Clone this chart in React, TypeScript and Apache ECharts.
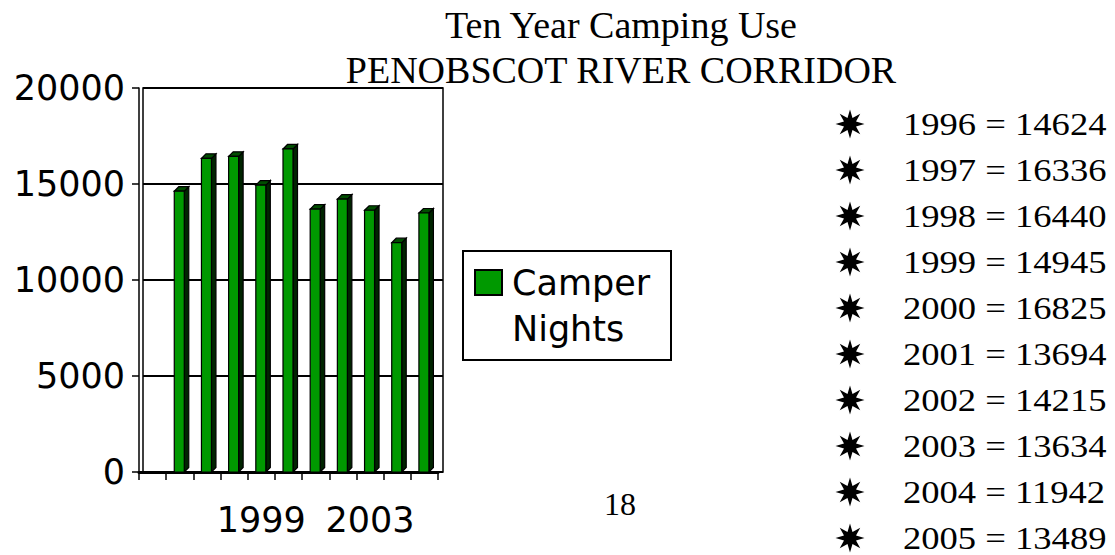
import React, { useEffect, useRef } from "react";
import * as echarts from "echarts";

const titleLines = ["Ten Year Camping Use", "PENOBSCOT RIVER CORRIDOR"];
const seriesName = "Camper Nights";
const years = [1996, 1997, 1998, 1999, 2000, 2001, 2002, 2003, 2004, 2005];
const camperNights = [14624, 16336, 16440, 14945, 16825, 13694, 14215, 13634, 11942, 13489];
const categories = ["", ...years.map(String)];
const yTicks = { min: 0, max: 20000, interval: 5000 };
const pageNumber = "18";

const SANS = "DejaVu Sans";
const SERIF = "Liberation Serif";

function starPoints(cx: number, cy: number, ro: number, ri: number, n: number) {
  const pts: number[][] = [];
  for (let k = 0; k < n * 2; k++) {
    const r = k % 2 === 0 ? ro : ri;
    const a = -Math.PI / 2 + (k * Math.PI) / n;
    pts.push([cx + r * Math.cos(a), cy + r * Math.sin(a)]);
  }
  return pts;
}

export default function App() {
  const ref = useRef<HTMLDivElement>(null);
  useEffect(() => {
    if (!ref.current) return;
    const chart = echarts.init(ref.current, undefined, { renderer: "svg" });

    const listGraphics: any[] = [];
    years.forEach((yr, i) => {
      const cy = 124 + i * 46;
      listGraphics.push({
        type: "polygon",
        shape: { points: starPoints(850, cy, 14.5, 6.5, 8) },
        style: { fill: "#000" },
      });
      listGraphics.push({
        type: "text",
        x: 903,
        y: cy,
        scaleX: 1.18,
        style: {
          text: `${yr} = ${camperNights[i]}`,
          fontFamily: SERIF,
          fontSize: 31,
          fill: "#000",
          align: "left",
          verticalAlign: "middle",
        },
      });
    });

    const option: any = {
      animation: false,
      backgroundColor: "#fff",
      grid: [
        { left: 139, top: 88, width: 299, height: 384, containLabel: false },
        {
          left: 143,
          top: 88,
          width: 300,
          height: 384,
          show: true,
          borderColor: "#000",
          borderWidth: 1.5,
          backgroundColor: "transparent",
        },
      ],
      xAxis: [
        {
          type: "category",
          gridIndex: 0,
          data: categories,
          boundaryGap: true,
          axisLine: { show: true, lineStyle: { color: "#000", width: 3 } },
          axisTick: { show: true, interval: 0, length: 8, lineStyle: { color: "#000", width: 1.5 } },
          axisLabel: {
            interval: 3,
            margin: 30,
            fontFamily: SANS,
            fontSize: 35,
            color: "#000",
          },
          splitLine: { show: false },
        },
        {
          type: "category",
          gridIndex: 1,
          data: categories,
          show: false,
        },
      ],
      yAxis: [
        {
          type: "value",
          gridIndex: 0,
          min: yTicks.min,
          max: yTicks.max,
          interval: yTicks.interval,
          axisLine: { show: true, lineStyle: { color: "#000", width: 1.5 } },
          axisTick: { show: true, length: 7, lineStyle: { color: "#000", width: 1.5 } },
          axisLabel: {
            margin: 14,
            fontFamily: SANS,
            fontSize: 35,
            color: "#000",
            formatter: (v: number) => String(v),
          },
          splitLine: { show: false },
        },
        {
          type: "value",
          gridIndex: 1,
          min: yTicks.min,
          max: yTicks.max,
          interval: yTicks.interval,
          axisLine: { show: false },
          axisTick: { show: false },
          axisLabel: { show: false },
          splitLine: { show: true, lineStyle: { color: "#000", width: 2 } },
        },
      ],
      series: [
        {
          name: seriesName,
          type: "custom",
          xAxisIndex: 0,
          yAxisIndex: 0,
          z: 5,
          encode: { x: 0, y: 1 },
          data: years.map((yr, i) => [String(yr), camperNights[i]]),
          renderItem: (params: any, api: any) => {
            const idx = api.value(0);
            const v = api.value(1);
            const top = api.coord([idx, v]);
            const base = api.coord([idx, 0]);
            const w = 10;
            const d = 4.5;
            const x0 = top[0] - w / 2 - 0.5;
            const x1 = x0 + w;
            const yt = top[1];
            const yb = base[1];
            const stroke = { stroke: "#000", lineWidth: 1.2 };
            return {
              type: "group",
              children: [
                {
                  type: "polygon",
                  shape: { points: [[x1, yt], [x1 + d, yt - d], [x1 + d, yb - d], [x1, yb]] },
                  style: { fill: "#002400", ...stroke },
                },
                {
                  type: "polygon",
                  shape: { points: [[x0, yt], [x0 + d, yt - d], [x1 + d, yt - d], [x1, yt]] },
                  style: { fill: "#004d00", ...stroke },
                },
                {
                  type: "rect",
                  shape: { x: x0, y: yt, width: w, height: yb - yt },
                  style: { fill: "#009900", ...stroke },
                },
              ],
            };
          },
        },
      ],
      graphic: [
        {
          type: "text",
          x: 621,
          y: 25,
          style: {
            text: titleLines[0],
            fontFamily: SERIF,
            fontSize: 38,
            fill: "#000",
            align: "center",
            verticalAlign: "middle",
          },
        },
        {
          type: "text",
          x: 621,
          y: 70,
          style: {
            text: titleLines[1],
            fontFamily: SERIF,
            fontSize: 38,
            fill: "#000",
            align: "center",
            verticalAlign: "middle",
          },
        },
        {
          type: "rect",
          shape: { x: 463, y: 251, width: 208, height: 109 },
          style: { fill: "#fff", stroke: "#000", lineWidth: 2 },
        },
        {
          type: "rect",
          shape: { x: 475, y: 270, width: 27, height: 25 },
          style: { fill: "#009900", stroke: "#000", lineWidth: 2 },
        },
        {
          type: "text",
          x: 512,
          y: 283,
          style: {
            text: "Camper",
            fontFamily: SANS,
            fontSize: 35,
            fill: "#000",
            align: "left",
            verticalAlign: "middle",
          },
        },
        {
          type: "text",
          x: 512,
          y: 329,
          style: {
            text: "Nights",
            fontFamily: SANS,
            fontSize: 35,
            fill: "#000",
            align: "left",
            verticalAlign: "middle",
          },
        },
        {
          type: "text",
          x: 620,
          y: 504,
          style: {
            text: pageNumber,
            fontFamily: SERIF,
            fontSize: 32,
            fill: "#000",
            align: "center",
            verticalAlign: "middle",
          },
        },
        ...listGraphics,
      ],
    };
    chart.setOption(option);
    return () => chart.dispose();
  }, []);
  return (
    <div
      ref={ref}
      style={{ position: "absolute", left: 0, top: 0, width: 1115, height: 555 }}
    />
  );
}
